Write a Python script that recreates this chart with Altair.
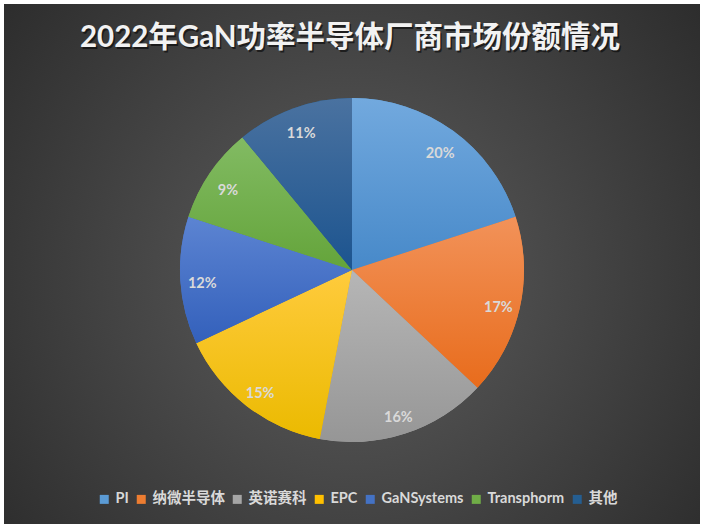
import math
import altair as alt
import pandas as pd

categories = ["PI", "纳微半导体", "英诺赛科", "EPC", "GaNSystems", "Transphorm", "其他"]
shares = [20, 17, 16, 15, 12, 9, 11]
labels = ["20%", "17%", "16%", "15%", "12%", "9%", "11%"]
base_colors = ["#5B9BD5", "#ED7D31", "#A5A5A5", "#FFC000", "#4472C4", "#70AD47", "#255E91"]
top_colors = ["#72a9de", "#f29259", "#b6b6b6", "#ffcb3d", "#5c84d2", "#82bb63", "#4a72a0"]
bottom_colors = ["#4789c9", "#e86c1c", "#969696", "#ebba00", "#3360bb", "#64a43a", "#1c548f"]
title_text = "2022年GaN功率半导体厂商市场份额情况"

LATIN_CJK = "Lato, 'Noto Sans CJK SC'"
CX, CY, R = 352, 270, 172

df = pd.DataFrame({"category": categories, "share": shares, "label": labels,
                   "order": list(range(len(categories)))})

th_scale = alt.Scale(domain=[0, 100], range=[0, 2 * math.pi])

base = (
    alt.Chart(df)
    .transform_window(cum="sum(share)", sort=[alt.SortField("order")], frame=[None, 0])
    .transform_calculate(start="datum.cum - datum.share", mid="datum.cum - datum.share / 2")
)

bg = alt.Chart(pd.DataFrame({"d": [0]})).mark_rect(
    fill={
        "gradient": "radial",
        "x1": 0.5, "y1": 0.52, "r1": 0,
        "x2": 0.5, "y2": 0.52, "r2": 0.75,
        "stops": [{"offset": 0, "color": "#5e5e5e"}, {"offset": 1, "color": "#242424"}],
    }
).encode(x=alt.value(4), x2=alt.value(700), y=alt.value(4), y2=alt.value(524))

legend_layer = base.mark_arc(radius=R).encode(
    theta=alt.Theta("start:Q", scale=th_scale, stack=False),
    theta2="cum:Q",
    color=alt.Color(
        "category:N",
        scale=alt.Scale(domain=categories, range=base_colors),
        legend=alt.Legend(
            title=None, orient="none", legendX=97, legendY=492, direction="horizontal",
            symbolType="square", symbolSize=81, symbolStrokeWidth=0,
            labelColor="#d9d9d9", labelFontSize=14.5, labelFont=LATIN_CJK,
            labelFontWeight="bold", columnPadding=5, labelOffset=4,
        ),
    ),
    order=alt.Order("order:Q"),
    x=alt.value(CX), y=alt.value(CY),
)

grad_layers = []
for cat, c0, c1 in zip(categories, top_colors, bottom_colors):
    grad_layers.append(
        base.transform_filter(alt.datum.category == cat)
        .mark_arc(
            radius=R,
            fill={
                "gradient": "linear", "x1": 0, "y1": 0, "x2": 0, "y2": 1,
                "stops": [{"offset": 0, "color": c0}, {"offset": 1, "color": c1}],
            },
        )
        .encode(
            theta=alt.Theta("start:Q", scale=th_scale, stack=False),
            theta2="cum:Q",
            x=alt.value(CX), y=alt.value(CY),
        )
    )

text_layer = base.mark_text(
    radius=150, fontSize=14.5, fontWeight="bold", color="#d9d9d9", font=LATIN_CJK, dy=5
).encode(
    theta=alt.Theta("mid:Q", scale=th_scale, stack=False),
    text="label:N",
    x=alt.value(CX), y=alt.value(CY),
)

title_df = pd.DataFrame({"t": [title_text]})
title_shadow = alt.Chart(title_df).mark_text(
    fontSize=29.5, fontWeight="bold", color="#000000", opacity=0.55, font=LATIN_CJK,
    baseline="middle", align="center",
).encode(text="t:N", x=alt.value(351.5), y=alt.value(39.5))
title = alt.Chart(title_df).mark_text(
    fontSize=29.5, fontWeight="bold", color="#f2f2f2", font=LATIN_CJK,
    baseline="middle", align="center",
).encode(text="t:N", x=alt.value(350), y=alt.value(38))

chart = alt.layer(bg, legend_layer, *grad_layers, text_layer, title_shadow, title).properties(
    width=705, height=529,
    autosize=alt.AutoSizeParams(type="none"),
    padding=0,
    background="#ffffff",
).configure_view(strokeWidth=0)

chart.save("out.html", embed_options={"renderer": "svg", "actions": False})
